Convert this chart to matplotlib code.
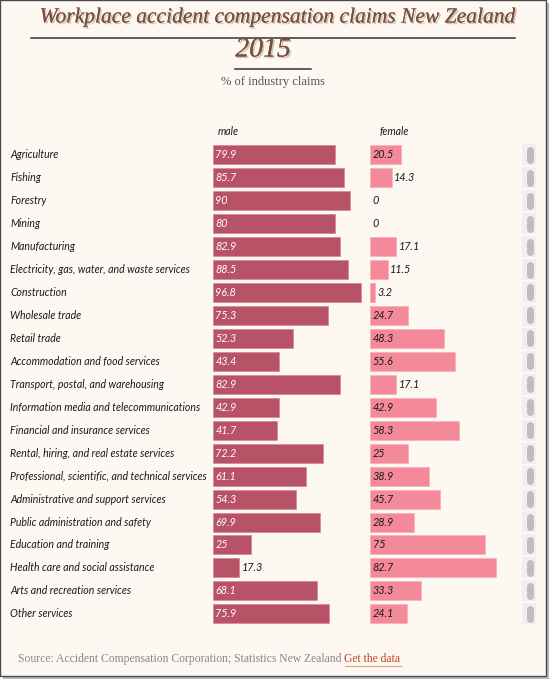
import matplotlib
matplotlib.use("Agg")
import matplotlib.pyplot as plt
import matplotlib.patheffects as pe
from matplotlib.patches import Rectangle

industries = [
    "Agriculture", "Fishing", "Forestry", "Mining", "Manufacturing",
    "Electricity, gas, water, and waste services", "Construction",
    "Wholesale trade", "Retail trade", "Accommodation and food services",
    "Transport, postal, and warehousing",
    "Information media and telecommunications",
    "Financial and insurance services",
    "Rental, hiring, and real estate services",
    "Professional, scientific, and technical services",
    "Administrative and support services",
    "Public administration and safety", "Education and training",
    "Health care and social assistance", "Arts and recreation services",
    "Other services",
]
male = [79.9, 85.7, 90, 80, 82.9, 88.5, 96.8, 75.3, 52.3, 43.4, 82.9,
        42.9, 41.7, 72.2, 61.1, 54.3, 69.9, 25, 17.3, 68.1, 75.9]
female = [20.5, 14.3, 0, 0, 17.1, 11.5, 3.2, 24.7, 48.3, 55.6, 17.1,
          42.9, 58.3, 25, 38.9, 45.7, 28.9, 75, 82.7, 33.3, 24.1]

title = "Workplace accident compensation claims New Zealand"
year = "2015"
subtitle = "% of industry claims"
source = "Source: Accident Compensation Corporation; Statistics New Zealand"
link = "Get the data"

BG = "#fdf9f2"
MALE_C = "#b85266"
FEMALE_C = "#f4899a"

W, H = 550, 679
fig = plt.figure(figsize=(W / 100, H / 100), dpi=100)
fig.patch.set_facecolor("white")

# page frame with a small drop shadow
fig.patches.append(Rectangle((3 / W, 0), 546 / W, 676 / H, transform=fig.transFigure,
                             facecolor="#8a8a8a", edgecolor="none", alpha=0.6, zorder=-2))
fig.patches.append(Rectangle((0, 3 / H), 546 / W, 676 / H, transform=fig.transFigure,
                             facecolor=BG, edgecolor="#4a4a4a", linewidth=1.0, zorder=-1))

ax = fig.add_axes([0, 0, 1, 1], zorder=1)
ax.set_axis_off()
ax.patch.set_alpha(0)

# pixel layout -> data units
X0, SCALE = 213, 1.527
ROW0, STEP = 154.8, 22.95


def px(x):
    return (x - X0) / SCALE


ax.set_xlim(px(0), px(W))
ax.set_ylim((H - ROW0) / STEP, -ROW0 / STEP)

f_off = px(370)
rows = list(range(len(industries)))
bar_h = 19 / STEP

ax.barh(rows, male, height=bar_h, left=0, color=MALE_C, edgecolor="#d6909c", linewidth=0.7)
f_edges = ["#f9b3bd" if v > 0 else "none" for v in female]
ax.barh(rows, female, height=bar_h, left=f_off, color=FEMALE_C, edgecolor=f_edges, linewidth=0.7)

# scroll-like grey markers on the right
ax.barh(rows, [14 / SCALE] * len(rows), height=21 / STEP, left=px(522),
        color="#efefef", edgecolor="none")
for i in rows:
    ax.plot([px(529.5), px(529.5)], [i - 5 / STEP, i + 5 / STEP], color="#bdbdbd",
            lw=5.0, solid_capstyle="round")

lab_font = dict(family="Lato", style="italic", fontsize=7.6)
val_font = dict(family="Lato", style="italic", fontsize=7.8)
gap = 2.5 / SCALE

for i, name in enumerate(industries):
    ax.text(px(10), i, name, ha="left", va="center", color="#1a1a1a", **lab_font)
    m = male[i]
    if m >= 20:
        ax.text(gap, i, f"{m:g}", ha="left", va="center", color="white", **val_font)
    else:
        ax.text(m + gap, i, f"{m:g}", ha="left", va="center", color="#1a1a1a", **val_font)
    f = female[i]
    if f >= 20:
        ax.text(f_off + gap, i, f"{f:g}", ha="left", va="center", color="#1a1a1a", **val_font)
    else:
        ax.text(f_off + f + gap, i, f"{f:g}", ha="left", va="center", color="#1a1a1a", **val_font)

ax.text(px(218), -1, "male", ha="left", va="center", color="#1a1a1a", **lab_font)
ax.text(px(380), -1, "female", ha="left", va="center", color="#1a1a1a", **lab_font)

shadow = [pe.withSimplePatchShadow(offset=(1.2, -1.2), shadow_rgbFace="#9c8474", alpha=0.45),
          pe.Normal()]
fig.text(277 / W, 1 - 18 / H, title, ha="center", va="center", family="Liberation Serif",
         style="italic", fontsize=15.5, color="#7a4e3a", path_effects=shadow)
fig.text(263 / W, 1 - 50 / H, year, ha="center", va="center", family="Liberation Serif",
         style="italic", fontsize=20, color="#7a4e3a", path_effects=shadow)
fig.add_artist(plt.Line2D([31 / W, 515 / W], [1 - 37.5 / H] * 2, color="#333333", lw=1.1))
fig.add_artist(plt.Line2D([235 / W, 311 / W], [1 - 68.5 / H] * 2, color="#333333", lw=1.1))
fig.text(273 / W, 1 - 82 / H, subtitle, ha="center", va="center", family="Liberation Serif",
         fontsize=9, color="#555555")

src = fig.text(18 / W, 1 - 659 / H, source, ha="left", va="center", family="Liberation Serif",
               fontsize=8.35, color="#888888")
fig.canvas.draw()
bb = src.get_window_extent()
lk = fig.text((bb.x1 + 3) / W, 1 - 659 / H, link, ha="left", va="center",
              family="Liberation Serif", fontsize=8.35, color="#c0441e")
fig.canvas.draw()
lb = lk.get_window_extent()
fig.add_artist(plt.Line2D([lb.x0 / W, lb.x1 / W], [(lb.y0 - 0.5) / H] * 2,
                          color="#e0a080", lw=0.8))

fig.savefig("out.png", dpi=100, facecolor=fig.get_facecolor())
